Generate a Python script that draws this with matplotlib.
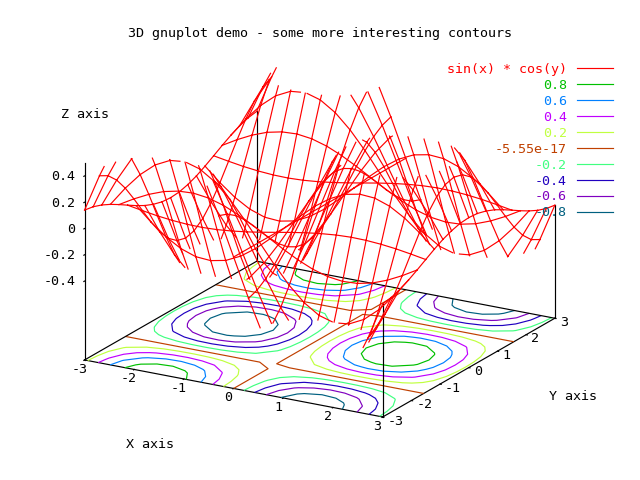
import numpy as np
import matplotlib
matplotlib.use("Agg")
import matplotlib.pyplot as plt
from mpl_toolkits.mplot3d import Axes3D  # noqa: F401

plt.rcParams['font.family'] = ['DejaVu Sans Mono']
plt.rcParams['axes.unicode_minus'] = False

title = "3D gnuplot demo - some more interesting contours"
surface_label = "sin(x) * cos(y)"
surface_color = "#ff0000"
x_values = [-3.0, -2.7, -2.4, -2.1, -1.8, -1.5, -1.2, -0.9, -0.6, -0.3, 0.0,
            0.3, 0.6, 0.9, 1.2, 1.5, 1.8, 2.1, 2.4, 2.7, 3.0]
y_values = list(x_values)
z_values = [
 [.140,.128,.104,.071,.032,-.010,-.051,-.088,-.116,-.135,-.141,-.135,-.116,-.088,-.051,-.010,.032,.071,.104,.128,.140],
 [.423,.386,.315,.216,.097,-.030,-.155,-.266,-.353,-.408,-.427,-.408,-.353,-.266,-.155,-.030,.097,.216,.315,.386,.423],
 [.669,.611,.498,.341,.153,-.048,-.245,-.420,-.557,-.645,-.675,-.645,-.557,-.420,-.245,-.048,.153,.341,.498,.611,.669],
 [.855,.780,.637,.436,.196,-.061,-.313,-.537,-.712,-.825,-.863,-.825,-.712,-.537,-.313,-.061,.196,.436,.637,.780,.855],
 [.964,.880,.718,.492,.221,-.069,-.353,-.605,-.804,-.930,-.974,-.930,-.804,-.605,-.353,-.069,.221,.492,.718,.880,.964],
 [.988,.902,.736,.504,.227,-.071,-.361,-.620,-.823,-.953,-.997,-.953,-.823,-.620,-.361,-.071,.227,.504,.736,.902,.988],
 [.923,.843,.687,.470,.212,-.066,-.338,-.579,-.769,-.890,-.932,-.890,-.769,-.579,-.338,-.066,.212,.470,.687,.843,.923],
 [.775,.708,.578,.395,.178,-.055,-.284,-.487,-.646,-.748,-.783,-.748,-.646,-.487,-.284,-.055,.178,.395,.578,.708,.775],
 [.559,.510,.416,.285,.128,-.040,-.205,-.351,-.466,-.539,-.565,-.539,-.466,-.351,-.205,-.040,.128,.285,.416,.510,.559],
 [.293,.267,.218,.149,.067,-.021,-.107,-.184,-.244,-.282,-.296,-.282,-.244,-.184,-.107,-.021,.067,.149,.218,.267,.293],
 [0,0,0,0,0,0,0,0,0,0,0,0,0,0,0,0,0,0,0,0,0],
 [-.293,-.267,-.218,-.149,-.067,.021,.107,.184,.244,.282,.296,.282,.244,.184,.107,.021,-.067,-.149,-.218,-.267,-.293],
 [-.559,-.510,-.416,-.285,-.128,.040,.205,.351,.466,.539,.565,.539,.466,.351,.205,.040,-.128,-.285,-.416,-.510,-.559],
 [-.775,-.708,-.578,-.395,-.178,.055,.284,.487,.646,.748,.783,.748,.646,.487,.284,.055,-.178,-.395,-.578,-.708,-.775],
 [-.923,-.843,-.687,-.470,-.212,.066,.338,.579,.769,.890,.932,.890,.769,.579,.338,.066,-.212,-.470,-.687,-.843,-.923],
 [-.988,-.902,-.736,-.504,-.227,.071,.361,.620,.823,.953,.997,.953,.823,.620,.361,.071,-.227,-.504,-.736,-.902,-.988],
 [-.964,-.880,-.718,-.492,-.221,.069,.353,.605,.804,.930,.974,.930,.804,.605,.353,.069,-.221,-.492,-.718,-.880,-.964],
 [-.855,-.780,-.637,-.436,-.196,.061,.313,.537,.712,.825,.863,.825,.712,.537,.313,.061,-.196,-.436,-.637,-.780,-.855],
 [-.669,-.611,-.498,-.341,-.153,.048,.245,.420,.557,.645,.675,.645,.557,.420,.245,.048,-.153,-.341,-.498,-.611,-.669],
 [-.423,-.386,-.315,-.216,-.097,.030,.155,.266,.353,.408,.427,.408,.353,.266,.155,.030,-.097,-.216,-.315,-.386,-.423],
 [-.140,-.128,-.104,-.071,-.032,.010,.051,.088,.116,.135,.141,.135,.116,.088,.051,.010,-.032,-.071,-.104,-.128,-.140],
]
contour_levels = [0.8, 0.6, 0.4, 0.2, 0.0, -0.2, -0.4, -0.6, -0.8]
contour_labels = ["0.8", "0.6", "0.4", "0.2", "-5.55e-17", "-0.2", "-0.4", "-0.6", "-0.8"]
contour_colors = ["#00c000", "#0080ff", "#c000ff", "#c0ff40", "#c04000",
                  "#40ff80", "#2000c0", "#8000c0", "#006080"]
x_ticks = [-3, -2, -1, 0, 1, 2, 3]
y_ticks = [-3, -2, -1, 0, 1, 2, 3]
z_ticks = [-0.4, -0.2, 0, 0.2, 0.4]
z_tick_labels = ["-0.4", "-0.2", "0", "0.2", "0.4"]
z_clip = (-0.5, 0.5)
z_base = -1.0

LW = 0.85
FS = 9.6

fig = plt.figure(figsize=(6.4, 4.8), dpi=100)
ax = fig.add_axes([73.2 / 640, -7 / 480, 480 / 640, 480 / 480], projection='3d',
                  proj_type='ortho', computed_zorder=False)
ax.view_init(elev=19.34, azim=-60)
ax.set_box_aspect((1, 1, 0.607), zoom=1.0715)
ax.patch.set_alpha(0)

X = np.array(x_values)
Y = np.array(y_values)
Z = np.array(z_values)
ax.set_xlim(X[0], X[-1], view_margin=0)
ax.set_ylim(Y[0], Y[-1], view_margin=0)
ax.set_zlim(z_base, z_clip[1], view_margin=0)


def clipped(xs, ys, zs, lo, hi):
    """Cut a polyline at the z range, as gnuplot does, leaving gaps."""
    ox, oy, oz = [], [], []
    for i in range(len(xs) - 1):
        z0, z1 = zs[i], zs[i + 1]
        t0, t1 = 0.0, 1.0
        if z0 == z1:
            if not lo <= z0 <= hi:
                continue
        else:
            ta, tb = (lo - z0) / (z1 - z0), (hi - z0) / (z1 - z0)
            t0, t1 = max(0.0, min(ta, tb)), min(1.0, max(ta, tb))
            if t0 >= t1:
                continue
        for t in (t0, t1):
            ox.append(xs[i] + t * (xs[i + 1] - xs[i]))
            oy.append(ys[i] + t * (ys[i + 1] - ys[i]))
            oz.append(z0 + t * (z1 - z0))
        ox.append(np.nan); oy.append(np.nan); oz.append(np.nan)
    return ox, oy, oz


# contours on the base
asc = np.argsort(contour_levels)
XX, YY = np.meshgrid(X, Y, indexing='ij')
cs = ax.contour(XX, YY, Z, levels=[contour_levels[i] for i in asc],
                colors=[contour_colors[i] for i in asc], offset=z_base, zdir='z',
                linewidths=LW, zorder=2)
cs.set_clip_on(False)

# back edges of the base and the corner verticals
edge = dict(color='k', lw=LW, zorder=3, clip_on=False)
ax.plot([X[0], X[0]], [Y[0], Y[-1]], [z_base, z_base], **edge)
ax.plot([X[0], X[-1]], [Y[-1], Y[-1]], [z_base, z_base], **edge)
ax.plot([X[0], X[0]], [Y[-1], Y[-1]], [z_base, Z[0, -1]], **edge)
ax.plot([X[-1], X[-1]], [Y[0], Y[0]], [z_base, Z[-1, 0]], **edge)
ax.plot([X[-1], X[-1]], [Y[-1], Y[-1]], [z_base, Z[-1, -1]], **edge)

# surface isolines, clipped to the z range
surf = dict(color=surface_color, lw=LW, zorder=4, clip_on=False)
for i in range(len(X)):
    ax.plot(*clipped(np.full(len(Y), X[i]), Y, Z[i, :], *z_clip), **surf)
for j in range(len(Y)):
    ax.plot(*clipped(X, np.full(len(X), Y[j]), Z[:, j], *z_clip), **surf)

# axes
ax.set_xticks(x_ticks)
ax.set_yticks(y_ticks)
ax.set_zticks(z_ticks)
ax.set_zticklabels(z_tick_labels)
ax.grid(False)
for axis in (ax.xaxis, ax.yaxis, ax.zaxis):
    axis.set_pane_color((1, 1, 1, 0))
    axis.pane.set_edgecolor((1, 1, 1, 0))
    axis.line.set_color('k')
    axis.line.set_linewidth(LW)
    axis._axinfo['tick']['inward_factor'] = 0.05
    axis._axinfo['tick']['outward_factor'] = 0.0
    axis._axinfo['tick']['linewidth'] = {True: LW, False: LW}
    axis._axinfo['tick']['color'] = 'k'
ax.zaxis.set_ticks_position('lower')
ax.tick_params(axis='x', labelsize=FS, pad=-2.5, colors='k')
ax.tick_params(axis='y', labelsize=FS, pad=-5, colors='k')
ax.tick_params(axis='z', labelsize=FS, pad=-4.5, colors='k')
plt.setp(ax.xaxis.get_majorticklabels(), va='center')
plt.setp(ax.yaxis.get_majorticklabels(), va='center', ha='left')
plt.setp(ax.zaxis.get_majorticklabels(), va='center', ha='right')

# key
handles = [plt.Line2D([], [], color=surface_color, lw=LW, label=surface_label)]
for lab, col in zip(contour_labels, contour_colors):
    handles.append(plt.Line2D([], [], color=col, lw=LW, label=lab))
ax.legend(handles=handles, loc='upper right', bbox_to_anchor=(613 / 640, 1 - 63 / 480),
          bbox_transform=fig.transFigure, frameon=False, markerfirst=False,
          fontsize=FS, labelcolor='linecolor', handlelength=2.7, handletextpad=0.75,
          labelspacing=0.22, borderpad=0, borderaxespad=0)

fig.text(320 / 640, 1 - 33 / 480, title, ha='center', va='center', fontsize=FS)
fig.text(85 / 640, 1 - 115 / 480, "Z axis", ha='center', va='center', fontsize=FS)
fig.text(150 / 640, 1 - 445 / 480, "X axis", ha='center', va='center', fontsize=FS)
fig.text(573 / 640, 1 - 397 / 480, "Y axis", ha='center', va='center', fontsize=FS)

fig.savefig("out.png", dpi=100)
